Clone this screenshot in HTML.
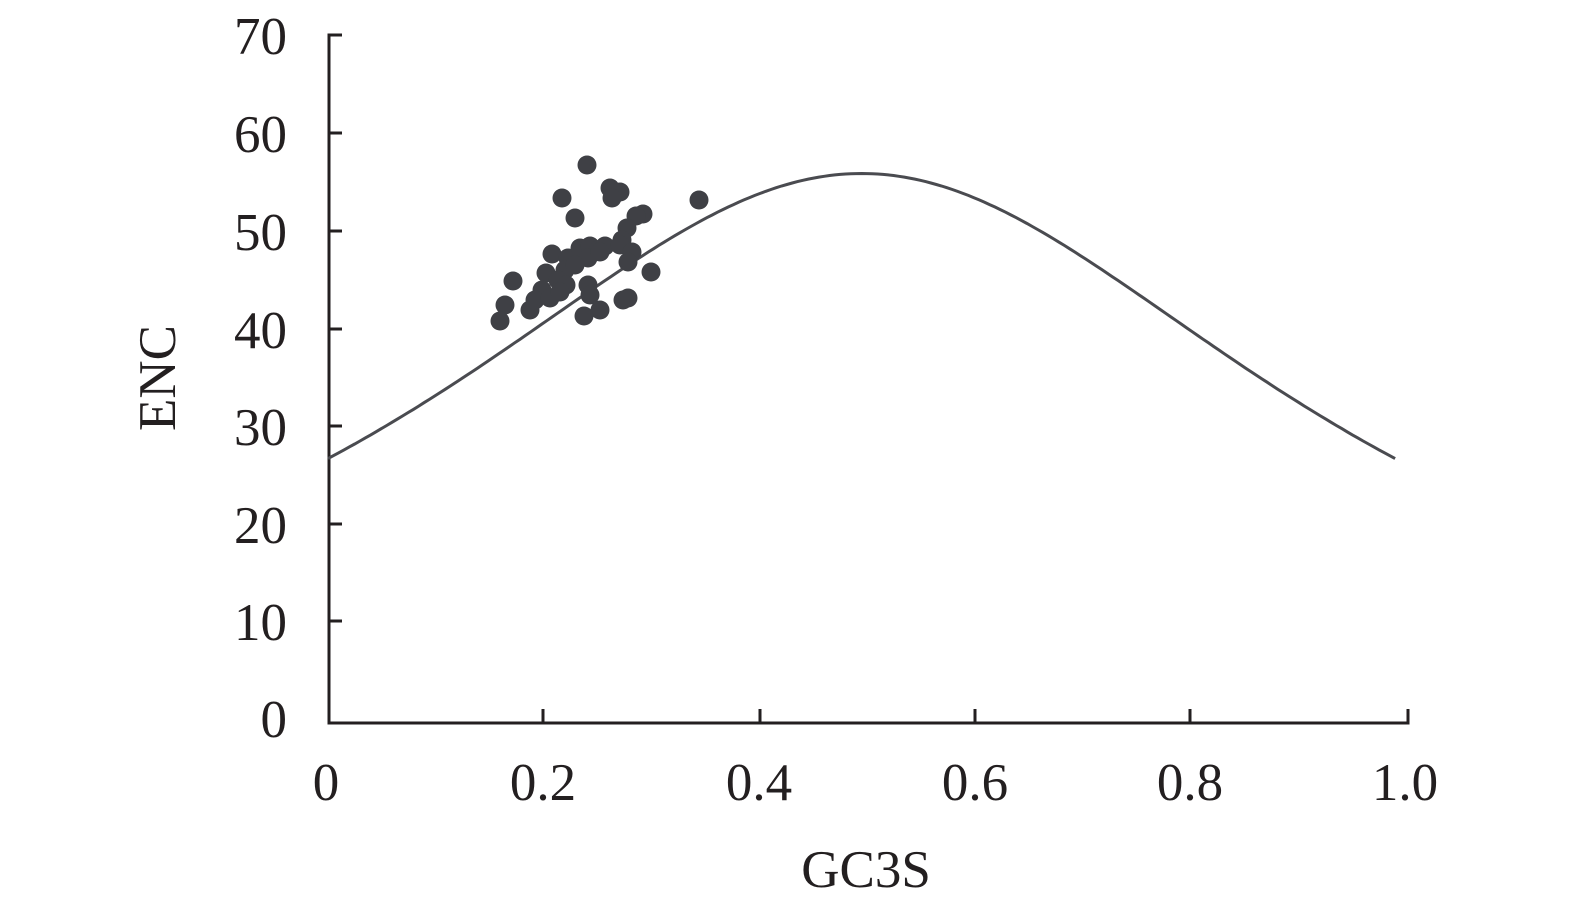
<!DOCTYPE html>
<html><head><meta charset="utf-8"><style>
html,body{margin:0;padding:0;background:#fff;}
svg{display:block;}
text{font-family:"Liberation Serif",serif;fill:#231f20;}
</style></head><body>
<svg id="s" width="1575" height="911" xmlns="http://www.w3.org/2000/svg">
<g font-size="53">
<text x="287" y="54" text-anchor="end">70</text>
<text x="287" y="152" text-anchor="end">60</text>
<text x="287" y="250" text-anchor="end">50</text>
<text x="287" y="348" text-anchor="end">40</text>
<text x="287" y="445" text-anchor="end">30</text>
<text x="287" y="543" text-anchor="end">20</text>
<text x="287" y="640" text-anchor="end">10</text>
<text x="287" y="737" text-anchor="end">0</text>
<text x="326" y="800" text-anchor="middle">0</text>
<text x="543" y="800" text-anchor="middle">0.2</text>
<text x="759" y="800" text-anchor="middle">0.4</text>
<text x="975" y="800" text-anchor="middle">0.6</text>
<text x="1190" y="800" text-anchor="middle">0.8</text>
<text x="1405" y="800" text-anchor="middle">1.0</text>
<text x="866" y="887" text-anchor="middle">GC3S</text>
<text transform="translate(175,378) rotate(-90)" text-anchor="middle">ENC</text>
</g>
<g stroke="#231f20" stroke-width="3" fill="none">
<path d="M342 35H329V723H1408V709"/>
<path d="M329 133H342M329 231H342M329 329H342M329 426H342M329 524H342M329 621H342"/>
<path d="M543 723V709M760 723V709M975 723V709M1190 723V709"/>
</g>
<path id="c" stroke="#4a4b50" stroke-width="3" fill="none"/>
<g id="p" fill="#3f4045"></g>
</svg>
<script>
var d="";for(var i=0;i<=200;i++){var t=i/200;var s=t;var e=29/(s*s+(1-s)*(1-s))-2.1;var x=328+t*0.989*1079;var y=723-e*9.83;d+=(i?"L":"M")+x.toFixed(1)+" "+y.toFixed(1);}
document.getElementById("c").setAttribute("d",d);
var pts=[[587,165],[562,198],[575,218],[610,188],[614,193],[620,192],[612,198],[699,200],[643,214],[636,216],[627,228],[622,240],[552,254],[568,258],[580,248],[590,246],[598,250],[605,246],[588,258],[600,252],[620,245],[632,252],[628,262],[546,273],[565,270],[558,280],[542,290],[566,285],[513,281],[651,272],[505,305],[500,321],[530,310],[535,300],[550,298],[588,285],[590,295],[600,310],[584,316],[623,300],[628,298],[560,292],[575,265]];
var g=document.getElementById("p"),h="";pts.forEach(function(p){h+='<circle cx="'+p[0]+'" cy="'+p[1]+'" r="9.5"/>';});g.innerHTML=h;
</script>
</body></html>
